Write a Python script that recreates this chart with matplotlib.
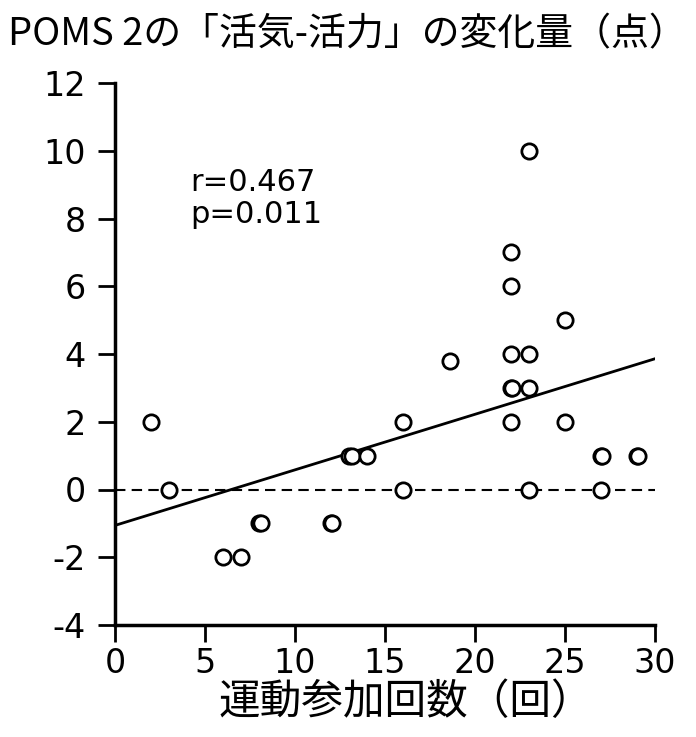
import matplotlib
matplotlib.use("Agg")
import matplotlib.pyplot as plt
import numpy as np

participation = [2, 3, 6, 7, 8, 8.1, 12, 12.05, 13, 13.15, 14, 16, 16, 18.6, 22, 22, 22, 22, 22, 22.05, 23, 23, 23, 23, 25, 25, 27, 27, 27.05, 29, 29.05]
vigor_change = [2, 0, -2, -2, -1, -1, -1, -1, 1, 1, 1, 2, 0, 3.8, 7, 6, 4, 3, 2, 3, 10, 4, 3, 0, 5, 2, 0, 1, 1, 1, 1]
fit_intercept = -1.06
fit_slope = 0.164
x_ticks = [0, 5, 10, 15, 20, 25, 30]
y_ticks = [-4, -2, 0, 2, 4, 6, 8, 10, 12]
title = "POMS 2の「活気-活力」の変化量（点）"
xlabel = "運動参加回数（回）"
stats_text = "r=0.467\np=0.011"

plt.rcParams['font.family'] = ['DejaVu Sans']
fig = plt.figure(figsize=(6.96, 7.37), dpi=100)
ax = fig.add_axes([115/696, 1-625/737, 540/696, 542/737])
jp_font = ['Noto Sans CJK JP', 'DejaVu Sans']

ax.axhline(0, color='black', lw=1.5, ls=(0, (5, 3)), zorder=1)
xs = np.array([0, 30])
ax.plot(xs, fit_intercept + fit_slope * xs, color='black', lw=2, zorder=2)
ax.scatter(participation, vigor_change, s=11**2, facecolors='white', edgecolors='black', linewidths=2, zorder=3, clip_on=False)

ax.set_xlim(0, 30)
ax.set_ylim(-4, 12)
ax.set_xticks(x_ticks)
ax.set_yticks(y_ticks)
ax.set_xticklabels([str(t) for t in x_ticks])
ax.set_yticklabels([str(t) for t in y_ticks])
ax.tick_params(direction='out', length=12, width=2, labelsize=24)
ax.tick_params(axis='y', pad=9)
ax.tick_params(axis='x', pad=4)
for s in ['top', 'right']:
    ax.spines[s].set_visible(False)
for s in ['left', 'bottom']:
    ax.spines[s].set_linewidth(2.5)

ax.text(4.2, 9.5, stats_text, fontsize=22, va='top', ha='left', linespacing=1.15)
fig.text(8/696, 1-35/737, title, fontfamily=jp_font, fontsize=27.3, va='center', ha='left')
fig.text(406/696, 1-703/737, xlabel, fontfamily=jp_font, fontsize=30, va='center', ha='center')

fig.savefig("out.png", dpi=100)
